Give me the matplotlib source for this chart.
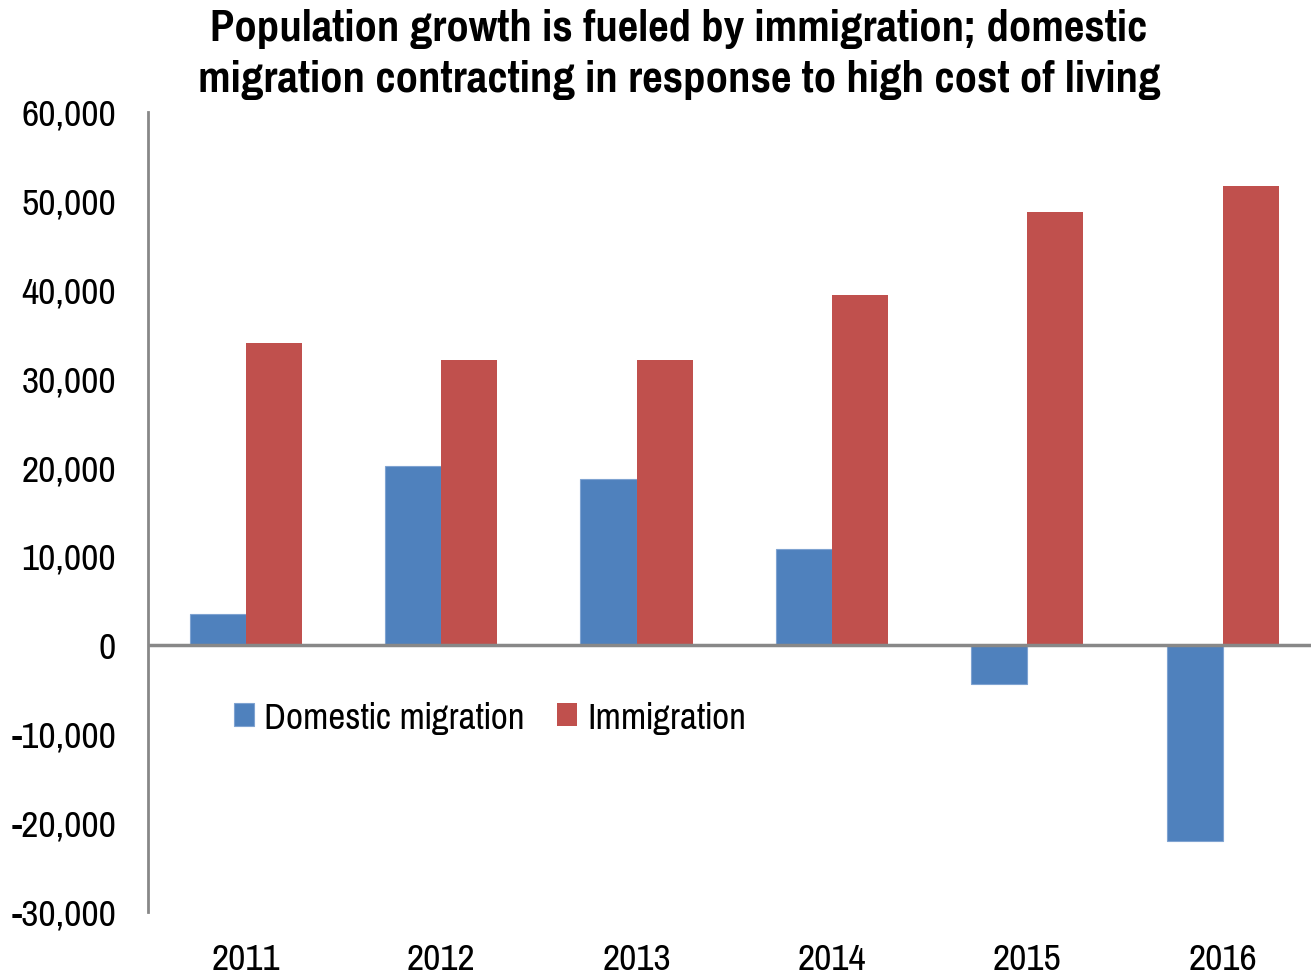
import matplotlib
matplotlib.use("Agg")
import matplotlib.pyplot as plt
import numpy as np
from matplotlib.ticker import FuncFormatter, MultipleLocator

years = ["2011", "2012", "2013", "2014", "2015", "2016"]
domestic = [3500, 20200, 18700, 10800, -4400, -22000]
immigration = [34000, 32100, 32100, 39400, 48700, 51700]

plt.rcParams['font.family'] = ['Pragati Narrow', 'Liberation Sans', 'DejaVu Sans']

fig = plt.figure(figsize=(13.11, 9.74), dpi=100)
ax = fig.add_axes([148/1311, 1-912/974, 6*195.4/1311, (912-112)/974])

x = np.arange(len(years))
w = 0.287
ax.bar(x - w/2, domestic, w, color='#4F81BD', edgecolor='#7FA3D1', linewidth=0.8, label='Domestic migration')
ax.bar(x + w/2, immigration, w, color='#C0504D', label='Immigration')

ax.set_xlim(-0.5, len(years) - 0.5)
ax.set_ylim(-30000, 60000)
ax.yaxis.set_major_locator(MultipleLocator(10000))
ax.yaxis.set_major_formatter(FuncFormatter(lambda v, p: f"{int(v):,}"))
ax.set_xticks(x)
ax.set_xticklabels(years)
ax.tick_params(axis='both', length=0, labelsize=29.5)
ax.tick_params(axis='y', pad=23)
ax.tick_params(axis='x', pad=22)

for s in ['top', 'right', 'bottom']:
    ax.spines[s].set_visible(False)
ax.spines['left'].set_color('#888888')
ax.spines['left'].set_linewidth(2)
ax.axhline(0, color='#888888', linewidth=2.5, zorder=3)

leg = ax.legend(loc='center left', bbox_to_anchor=(0.0735, 0.242), ncol=2, frameon=False,
                fontsize=29, handlelength=0.5, handleheight=0.5, handletextpad=0.25,
                columnspacing=0.8, borderpad=0, borderaxespad=0)

fig.text(679/1311, 1-29/974, "Population growth is fueled by immigration; domestic",
         ha='center', va='center', fontsize=35, fontweight='bold')
fig.text(679/1311, 1-80/974, "migration contracting in response to high cost of living",
         ha='center', va='center', fontsize=35, fontweight='bold')

fig.savefig("out.png", dpi=100)
